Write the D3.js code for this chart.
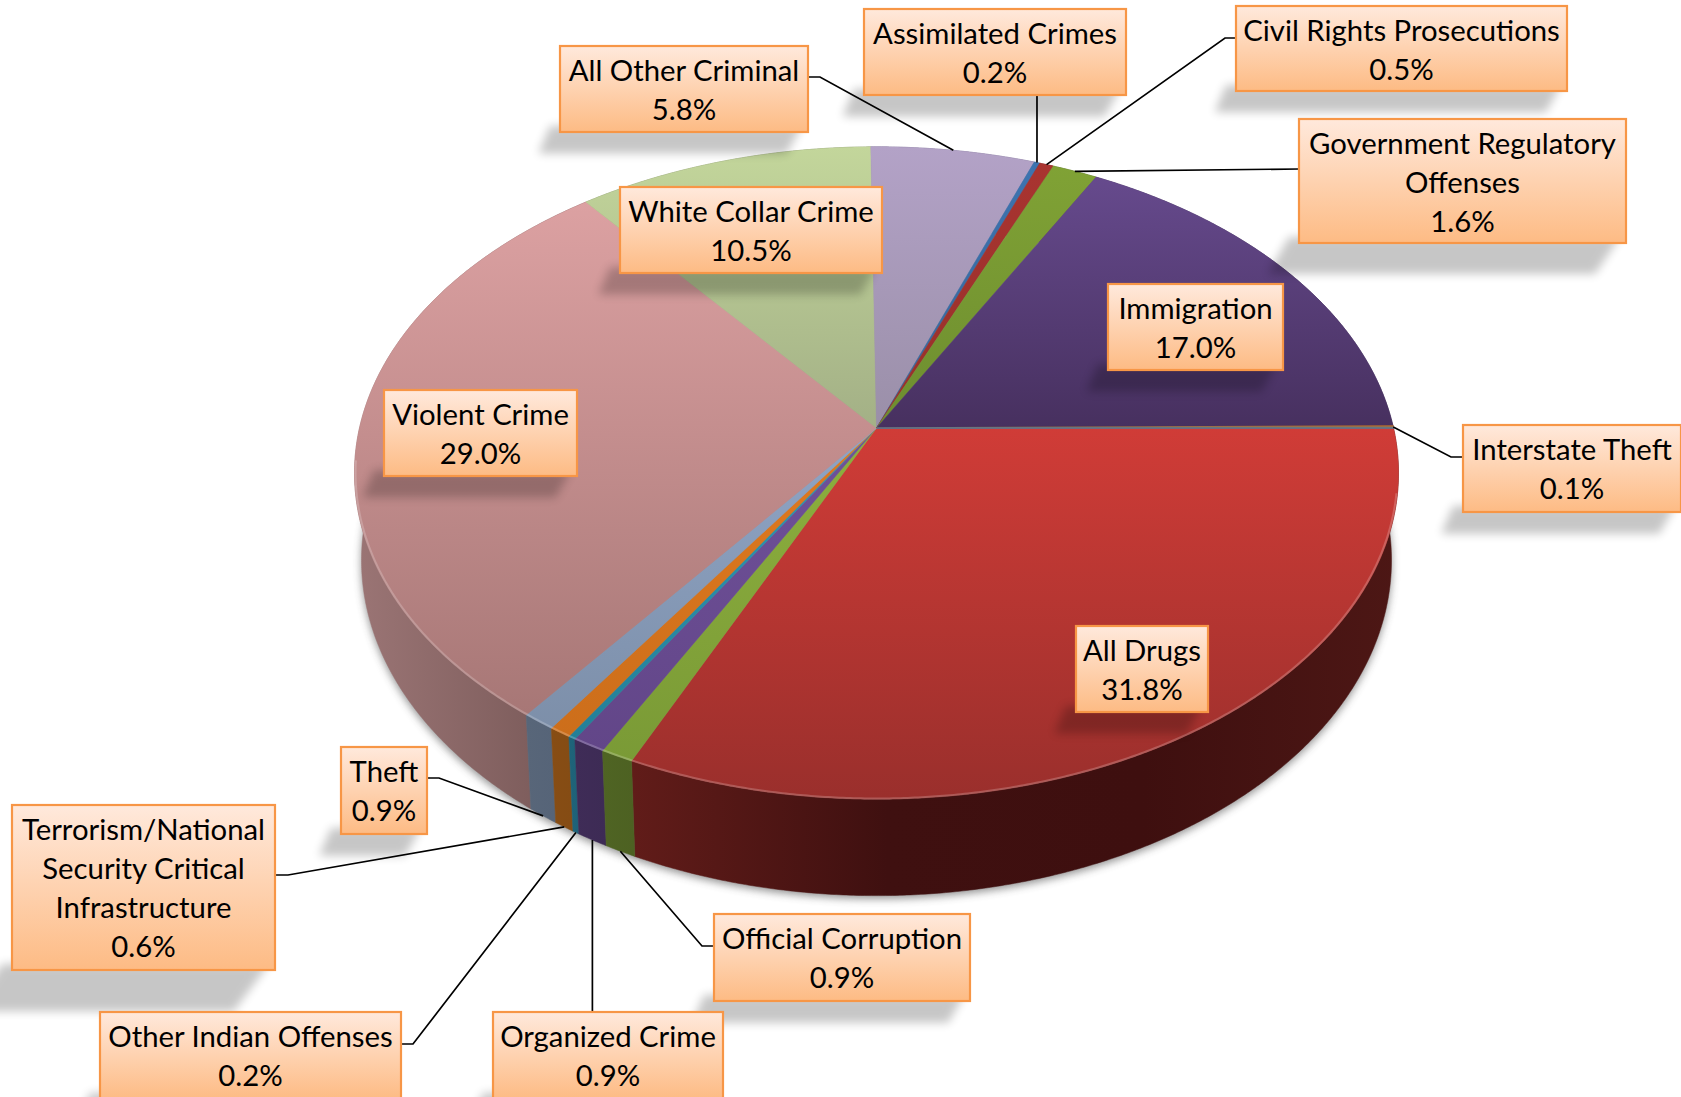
<!DOCTYPE html>
<html><head><meta charset="utf-8">
<script src="https://cdn.jsdelivr.net/npm/d3@7/dist/d3.min.js"></script>
<style>html,body{margin:0;padding:0;background:#fff;overflow:hidden}svg{display:block}
text{font-family:Lato,"Open Sans",sans-serif}</style></head>
<body><svg id="c" width="1681" height="1097"></svg>
<script>
// ---- chart data ----
const categories = ["All Drugs","Official Corruption","Organized Crime","Other Indian Offenses",
  "Terrorism/National Security Critical Infrastructure","Theft","Violent Crime","White Collar Crime",
  "All Other Criminal","Assimilated Crimes","Civil Rights Prosecutions","Government Regulatory Offenses",
  "Immigration","Interstate Theft"];
const values = [31.8,0.9,0.9,0.2,0.6,0.9,29.0,10.5,5.8,0.2,0.5,1.6,17.0,0.1];

// ---- styling ----
const topLight = ["#d03c37","#8db03e","#70519a","#2f9ab5","#e07a1f","#8fa5c6","#dca1a2","#c3d69b","#b3a2c7","#3d74b0","#a93430","#80a235","#664a8d","#b56a2a"];
const topDark  = ["#9a2f2c","#7a9a36","#624688","#237f98","#cc6e1b","#7d8fa9","#a77776","#a3b086","#9a8fa8","#35659a","#96302b","#6d8d2f","#47305f","#4f7a9a"];
const wallStops = [
  ["#611c19","#3f1010","#3e0f0f","#4d1715"],["#4f6423","#4d6122"],["#3f2c57","#3d2b55"],["#1f6379","#1e6278"],
  ["#874d14","#854c14"],["#586679","#566478"],["#9b7575","#755655"],["#7a8660","#7a8660"],
  ["#70648a","#70648a"],["#254a70","#254a70"],["#6a1f1c","#6a1f1c"],["#4d6122","#4d6122"],["#3d2b55","#3d2b55"],["#6a4520","#6a4520"]];
const boxes = [ // x, y, w, h of each call-out
  [1076,626,132,86],[714,914,256,87],[493,1012,230,87],[100,1012,301,87],[12,805,263,165],[341,747,86,87],
  [384,390,193,86],[620,187,262,86],[560,46,248,86],[864,9,262,86],[1236,6,331,85],[1299,119,327,124],
  [1108,284,175,86],[1463,425,218,87]];
const labelLines = [["All Drugs"],["Official Corruption"],["Organized Crime"],["Other Indian Offenses"],
  ["Terrorism/National","Security Critical","Infrastructure"],["Theft"],["Violent Crime"],["White Collar Crime"],
  ["All Other Criminal"],["Assimilated Crimes"],["Civil Rights Prosecutions"],["Government Regulatory","Offenses"],
  ["Immigration"],["Interstate Theft"]];
// leader elbow: [side of box, elbow length, rim ('top' or 'bottom')]
const leaders = [null,["left",12,"bottom"],["down",0,"bottom"],["right",12,"bottom"],["right",13,"bottom"],["right",12,"bottom"],
  null,null,["right",12,"top"],["down",0,"top"],["left",11,"top"],["left",0,"top"],null,["left",12,"top"]];
const leaderY = [0,32,0,32,70,31,0,0,31,0,32,50,0,32];

const svg = d3.select("#c");
const defs = svg.append("defs");
const blur = (id,s)=>defs.append("filter").attr("id",id).attr("x","-30%").attr("y","-40%").attr("width","160%").attr("height","180%")
  .append("feGaussianBlur").attr("stdDeviation",s);
blur("bS",4.5); blur("lS",5); blur("rim",0.6);

// perspective pie geometry
const k = 0.138, wallSx = 0.9866, wallSy = 1.028;
const xS = d3.scaleLinear().domain([-1,1]).range([876.5-517,876.5+517]);
const yTop = d3.scaleLinear().domain([-1,1]).range([428-320,428+320]);
const yBot = d3.scaleLinear().domain([-1,1]).range([514-320,514+320]);
const proj = (a,sx,sy,yS)=>{ const u=Math.sin(a), v=-Math.cos(a), d=1-k*v; return [xS(sx*u/d), yS(sy*v/d)]; };
const topPt = a=>proj(a,1,1,yTop), botPt = a=>proj(a,wallSx,wallSy,yBot);
const arcPts = (a0,a1,f)=>{ const n=Math.max(2,Math.ceil((a1-a0)/0.006));
  return d3.range(n+1).map(i=>f(a0+(a1-a0)*i/n)); };
const line = d3.line();
const pie = d3.pie().value(d=>d).sort(null).startAngle(Math.PI/2).endAngle(Math.PI/2+2*Math.PI);
const arcs = pie(values);

// gradients
arcs.forEach((d,i)=>{
  const g=defs.append("linearGradient").attr("id","t"+i).attr("x1",0).attr("y1",0).attr("x2",0).attr("y2",1);
  g.append("stop").attr("offset",0).attr("stop-color",topLight[i]);
  g.append("stop").attr("offset",1).attr("stop-color",topDark[i]);
  const w=defs.append("linearGradient").attr("id","w"+i).attr("x1",0).attr("y1",0).attr("x2",1).attr("y2",0);
  wallStops[i].forEach((c,j,a)=>w.append("stop").attr("offset",j/(a.length-1)).attr("stop-color",c));
});
const bg=defs.append("linearGradient").attr("id","box").attr("x1",0).attr("y1",0).attr("x2",0).attr("y2",1);
bg.append("stop").attr("offset",0).attr("stop-color","#ffe9dc");
bg.append("stop").attr("offset",1).attr("stop-color","#fdbb84");

// soft shadow beneath the disc
svg.append("path").attr("d",line(arcPts(0,2*Math.PI,botPt))+"Z")
  .attr("transform","translate(0,3)").attr("fill","#444").attr("opacity",.6).attr("filter","url(#bS)");

// walls, back to front
const order = d3.range(arcs.length).sort((a,b)=>
  -Math.cos((arcs[a].startAngle+arcs[a].endAngle)/2)-(-Math.cos((arcs[b].startAngle+arcs[b].endAngle)/2)));
svg.append("g").selectAll("path").data(order).join("path")
  .attr("d",i=>{const d=arcs[i];
    return line(arcPts(d.startAngle,d.endAngle,topPt).concat(arcPts(d.startAngle,d.endAngle,botPt).reverse()))+"Z";})
  .attr("fill",i=>`url(#w${i})`).attr("stroke",i=>`url(#w${i})`).attr("stroke-width",.5);

// top faces
const apex = proj(0,0,0,yTop);
svg.append("g").selectAll("path").data(arcs).join("path")
  .attr("d",d=>line([apex].concat(arcPts(d.startAngle,d.endAngle,topPt)))+"Z")
  .attr("fill",(d,i)=>`url(#t${i})`).attr("stroke",(d,i)=>`url(#t${i})`)
  .attr("stroke-width",(d,i)=>i===13?1.6:.5);

// bevel highlight on the rim
svg.append("path").attr("d",line(arcPts(Math.PI/2+.2,3*Math.PI/2-.1,a=>proj(a,.998,.998,yTop)))).attr("fill","none")
  .attr("stroke","#fff").attr("stroke-opacity",.2).attr("stroke-width",2).attr("filter","url(#rim)");

// leader lines
const lg=svg.append("g");
arcs.forEach((d,i)=>{
  const l=leaders[i]; if(!l) return;
  const [bx,by,bw,bh]=boxes[i], mid=(d.startAngle+d.endAngle)/2;
  const end = l[2]==="top"?topPt(mid):botPt(mid);
  let pts;
  if(l[0]==="down"){
    pts = end[1]>by ? [[end[0],by+bh],end] : [[end[0],by],end];
  } else {
    const x0 = l[0]==="right"?bx+bw:bx, x1 = l[0]==="right"?x0+l[1]:x0-l[1], y=by+leaderY[i];
    pts=[[x0,y],[x1,y],end];
  }
  lg.append("path").attr("d",line(pts)).attr("fill","none").attr("stroke","#000").attr("stroke-width",1.7);
});

// call-out shadows
const sg=svg.append("g");
boxes.forEach(([x,y,w,h])=>{
  const b=y+h, sh=.25*h, dp=.25*h;
  sg.append("path").attr("d",line([[x-10,b-6],[x+w-6,b-6],[x+w-sh,b+dp],[x-sh,b+dp]])+"Z")
    .attr("fill","#000").attr("opacity",.22).attr("filter","url(#lS)");
});

// call-outs
const fmt=d3.format(".1f");
const cg=svg.append("g");
arcs.forEach((d,i)=>{
  const [x,y,w,h]=boxes[i];
  cg.append("rect").attr("x",x).attr("y",y).attr("width",w).attr("height",h)
    .attr("fill","url(#box)").attr("stroke","#f79646").attr("stroke-width",2.2);
  labelLines[i].concat(fmt(values[i])+"%").forEach((t,j)=>{
    cg.append("text").attr("x",x+w/2).attr("y",y+34.5+39*j).attr("text-anchor","middle")
      .attr("font-size",29.3).attr("fill","#000").text(t);
  });
});
</script></body></html>
